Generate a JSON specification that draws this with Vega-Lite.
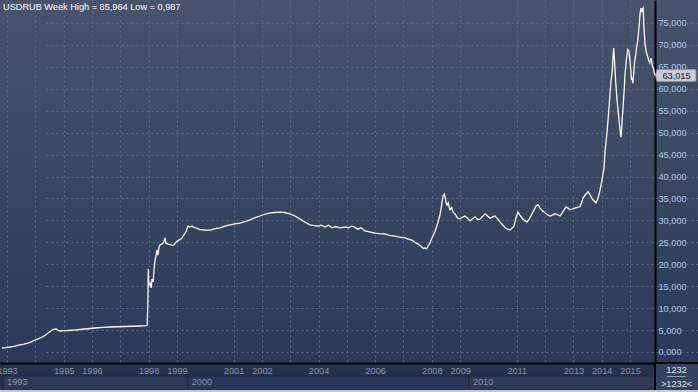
{
  "$schema": "https://vega.github.io/schema/vega-lite/v6.json",
  "width": 698,
  "height": 363,
  "autosize": {"type": "none"},
  "padding": {"left": 0, "top": 0, "right": 0, "bottom": 29},
  "background": "#25324d",
  "data": {"values": [{"k": 1}]},
  "title": {"text": "USDRUB Week High = 85,964 Low = 0,987", "anchor": "start", "frame": "group", "offset": -12, "dx": 3, "fontSize": 9.2, "fontWeight": "normal", "color": "#ffffff", "font": "Liberation Sans"},
  "config": {
    "font": "Liberation Sans",
    "view": {"stroke": null, "fill": {"gradient": "linear", "x1": 0, "y1": 0, "x2": 0, "y2": 1, "stops": [{"offset": 0, "color": "#47546b"}, {"offset": 1, "color": "#2a395b"}]}},
    "axis": {"labelOverlap": false, "labelFlush": false, "labelBound": false, "ticks": false, "tickSize": 0, "tickCount": 60},
    "locale": {"number": {"decimal": ",", "thousands": ".", "grouping": [3], "currency": ["", ""]}}
  },
  "layer": [
    {
      "data": {"values": [
        {"t":1992.82,"v":0.91},{"t":1992.95,"v":1.0},{"t":1993.11,"v":1.14},{"t":1993.28,"v":1.35},{"t":1993.46,"v":1.6},{"t":1993.6,"v":1.8},{"t":1993.74,"v":2.05},{"t":1993.85,"v":2.3},{"t":1993.99,"v":2.74},{"t":1994.1,"v":3.0},{"t":1994.24,"v":3.42},{"t":1994.35,"v":3.8},{"t":1994.45,"v":4.33},{"t":1994.53,"v":4.7},{"t":1994.59,"v":5.02},{"t":1994.66,"v":5.2},{"t":1994.73,"v":5.24},{"t":1994.8,"v":5.0},{"t":1994.87,"v":4.79},{"t":1995.0,"v":4.85},{"t":1995.15,"v":4.9},{"t":1995.35,"v":5.0},{"t":1995.58,"v":5.13},{"t":1995.85,"v":5.3},{"t":1996.11,"v":5.47},{"t":1996.4,"v":5.6},{"t":1996.64,"v":5.7},{"t":1996.9,"v":5.76},{"t":1997.17,"v":5.81},{"t":1997.45,"v":5.87},{"t":1997.7,"v":5.93},{"t":1997.9,"v":6.0},{"t":1997.95,"v":6.05},{"t":1997.97,"v":10.5},{"t":1997.98,"v":14.1},{"t":1997.99,"v":18.9},{"t":1998.0,"v":16.0},{"t":1998.01,"v":15.3},{"t":1998.05,"v":15.7},{"t":1998.09,"v":14.6},{"t":1998.12,"v":16.6},{"t":1998.16,"v":16.0},{"t":1998.19,"v":18.7},{"t":1998.23,"v":21.0},{"t":1998.26,"v":21.9},{"t":1998.3,"v":23.3},{"t":1998.33,"v":22.1},{"t":1998.37,"v":23.9},{"t":1998.4,"v":24.4},{"t":1998.47,"v":24.6},{"t":1998.53,"v":25.0},{"t":1998.58,"v":26.0},{"t":1998.61,"v":24.8},{"t":1998.68,"v":24.6},{"t":1998.76,"v":24.5},{"t":1998.83,"v":24.3},{"t":1998.9,"v":24.4},{"t":1998.97,"v":25.1},{"t":1999.07,"v":25.5},{"t":1999.15,"v":25.8},{"t":1999.22,"v":26.4},{"t":1999.32,"v":27.4},{"t":1999.39,"v":28.7},{"t":1999.46,"v":28.5},{"t":1999.53,"v":28.7},{"t":1999.6,"v":28.4},{"t":1999.67,"v":28.3},{"t":1999.81,"v":27.9},{"t":2000.0,"v":27.8},{"t":2000.17,"v":27.8},{"t":2000.35,"v":28.1},{"t":2000.52,"v":28.3},{"t":2000.7,"v":28.7},{"t":2000.87,"v":29.0},{"t":2001.05,"v":29.2},{"t":2001.23,"v":29.4},{"t":2001.4,"v":29.7},{"t":2001.58,"v":30.1},{"t":2001.75,"v":30.6},{"t":2001.93,"v":31.0},{"t":2002.1,"v":31.4},{"t":2002.29,"v":31.7},{"t":2002.45,"v":31.8},{"t":2002.64,"v":31.9},{"t":2002.8,"v":31.8},{"t":2002.99,"v":31.5},{"t":2003.17,"v":31.0},{"t":2003.35,"v":30.3},{"t":2003.52,"v":29.6},{"t":2003.7,"v":29.0},{"t":2003.85,"v":28.8},{"t":2003.98,"v":28.7},{"t":2004.1,"v":28.9},{"t":2004.23,"v":28.5},{"t":2004.35,"v":28.9},{"t":2004.48,"v":28.3},{"t":2004.6,"v":28.6},{"t":2004.76,"v":28.3},{"t":2004.94,"v":28.5},{"t":2005.05,"v":28.3},{"t":2005.18,"v":28.7},{"t":2005.28,"v":28.4},{"t":2005.39,"v":28.0},{"t":2005.5,"v":28.3},{"t":2005.64,"v":27.6},{"t":2005.8,"v":27.4},{"t":2006.0,"v":27.1},{"t":2006.15,"v":27.0},{"t":2006.35,"v":26.9},{"t":2006.5,"v":26.6},{"t":2006.7,"v":26.4},{"t":2006.85,"v":26.2},{"t":2007.05,"v":26.0},{"t":2007.2,"v":25.7},{"t":2007.3,"v":25.5},{"t":2007.4,"v":25.0},{"t":2007.51,"v":24.6},{"t":2007.6,"v":24.2},{"t":2007.7,"v":23.6},{"t":2007.76,"v":23.7},{"t":2007.82,"v":23.5},{"t":2007.87,"v":24.2},{"t":2007.93,"v":24.8},{"t":2007.97,"v":25.5},{"t":2008.04,"v":26.5},{"t":2008.11,"v":27.4},{"t":2008.17,"v":28.6},{"t":2008.22,"v":29.6},{"t":2008.28,"v":31.0},{"t":2008.33,"v":32.8},{"t":2008.37,"v":34.5},{"t":2008.4,"v":35.6},{"t":2008.44,"v":36.0},{"t":2008.47,"v":35.3},{"t":2008.5,"v":34.2},{"t":2008.54,"v":33.5},{"t":2008.58,"v":34.0},{"t":2008.64,"v":32.4},{"t":2008.7,"v":32.9},{"t":2008.76,"v":31.8},{"t":2008.82,"v":31.5},{"t":2008.9,"v":30.6},{"t":2008.99,"v":30.3},{"t":2009.08,"v":30.7},{"t":2009.17,"v":31.0},{"t":2009.26,"v":30.5},{"t":2009.35,"v":29.9},{"t":2009.44,"v":30.4},{"t":2009.53,"v":30.8},{"t":2009.62,"v":30.2},{"t":2009.7,"v":30.3},{"t":2009.79,"v":30.9},{"t":2009.88,"v":31.5},{"t":2009.97,"v":31.0},{"t":2010.06,"v":30.5},{"t":2010.15,"v":30.8},{"t":2010.23,"v":31.0},{"t":2010.32,"v":30.4},{"t":2010.41,"v":29.6},{"t":2010.5,"v":29.0},{"t":2010.59,"v":28.3},{"t":2010.68,"v":28.0},{"t":2010.76,"v":27.8},{"t":2010.83,"v":28.2},{"t":2010.9,"v":28.7},{"t":2010.97,"v":30.5},{"t":2011.04,"v":31.9},{"t":2011.11,"v":31.2},{"t":2011.19,"v":30.5},{"t":2011.28,"v":30.0},{"t":2011.36,"v":29.6},{"t":2011.45,"v":30.4},{"t":2011.54,"v":31.5},{"t":2011.61,"v":32.4},{"t":2011.68,"v":33.3},{"t":2011.75,"v":33.6},{"t":2011.82,"v":32.8},{"t":2011.91,"v":32.2},{"t":2012.0,"v":31.7},{"t":2012.09,"v":31.3},{"t":2012.17,"v":31.0},{"t":2012.26,"v":31.2},{"t":2012.35,"v":31.5},{"t":2012.44,"v":31.3},{"t":2012.53,"v":31.0},{"t":2012.63,"v":32.0},{"t":2012.74,"v":33.1},{"t":2012.81,"v":32.8},{"t":2012.88,"v":32.4},{"t":2012.97,"v":32.6},{"t":2013.06,"v":32.8},{"t":2013.15,"v":33.0},{"t":2013.23,"v":33.1},{"t":2013.29,"v":34.0},{"t":2013.34,"v":35.1},{"t":2013.43,"v":35.9},{"t":2013.52,"v":36.5},{"t":2013.59,"v":35.8},{"t":2013.64,"v":35.2},{"t":2013.69,"v":34.7},{"t":2013.75,"v":34.3},{"t":2013.8,"v":34.0},{"t":2013.87,"v":35.1},{"t":2013.94,"v":36.9},{"t":2014.01,"v":39.2},{"t":2014.08,"v":41.9},{"t":2014.12,"v":46.0},{"t":2014.16,"v":48.5},{"t":2014.19,"v":50.2},{"t":2014.23,"v":53.5},{"t":2014.26,"v":55.9},{"t":2014.3,"v":59.5},{"t":2014.33,"v":62.0},{"t":2014.36,"v":63.5},{"t":2014.38,"v":65.0},{"t":2014.4,"v":67.5},{"t":2014.42,"v":69.3},{"t":2014.45,"v":66.5},{"t":2014.47,"v":64.3},{"t":2014.5,"v":61.0},{"t":2014.54,"v":57.4},{"t":2014.58,"v":55.0},{"t":2014.61,"v":52.9},{"t":2014.65,"v":50.5},{"t":2014.68,"v":49.0},{"t":2014.7,"v":50.5},{"t":2014.72,"v":52.9},{"t":2014.75,"v":55.5},{"t":2014.77,"v":57.4},{"t":2014.8,"v":60.5},{"t":2014.82,"v":63.1},{"t":2014.86,"v":66.0},{"t":2014.89,"v":67.7},{"t":2014.92,"v":69.0},{"t":2014.95,"v":68.8},{"t":2014.98,"v":67.5},{"t":2015.0,"v":66.1},{"t":2015.03,"v":63.8},{"t":2015.05,"v":62.0},{"t":2015.08,"v":62.5},{"t":2015.1,"v":61.3},{"t":2015.13,"v":63.5},{"t":2015.16,"v":66.1},{"t":2015.2,"v":67.8},{"t":2015.23,"v":69.3},{"t":2015.27,"v":71.0},{"t":2015.3,"v":72.9},{"t":2015.33,"v":75.0},{"t":2015.35,"v":76.8},{"t":2015.37,"v":77.9},{"t":2015.39,"v":78.4},{"t":2015.42,"v":77.5},{"t":2015.44,"v":78.2},{"t":2015.46,"v":78.4},{"t":2015.48,"v":76.0},{"t":2015.49,"v":73.9},{"t":2015.51,"v":72.0},{"t":2015.53,"v":70.0},{"t":2015.57,"v":68.5},{"t":2015.6,"v":67.7},{"t":2015.63,"v":67.2},{"t":2015.65,"v":66.6},{"t":2015.68,"v":66.2},{"t":2015.7,"v":65.9},{"t":2015.72,"v":66.5},{"t":2015.74,"v":67.0},{"t":2015.77,"v":66.0},{"t":2015.79,"v":65.2},{"t":2015.82,"v":64.8},{"t":2015.84,"v":64.3},{"t":2015.86,"v":63.6},{"t":2015.88,"v":63.015}
      ]},
      "mark": {"type": "line", "color": "#fff8f0", "strokeWidth": 1.3},
      "encoding": {
        "x": {"field": "t", "type": "quantitative",
          "scale": {"domain": [1992.753, 2015.881], "range": [0, 655], "nice": false, "zero": false},
          "axis": {"title": null, "orient": "bottom", "values": [1993,1994,1995,1996,1997,1998,1999,2001,2002,2003,2004,2005,2006,2007,2008,2009,2011,2012,2013,2014,2015], "tickCount": 60,
            "format": "d", "labelExpr": "indexof([1994,1997,2003,2005,2007,2012], datum.value) >= 0 ? '' : datum.label",
            "labelColor": "#868fa3", "labelFontSize": 9.2, "labelFont": "Liberation Sans", "labelPadding": 3, "labelFlush": false, "labelOverlap": false, "labelBound": false,
            "ticks": false, "tickSize": 0, "domainColor": "#000000", "domainWidth": 2,
            "grid": true, "gridColor": "#5b6a86", "gridDash": [2, 3], "gridWidth": 1}},
        "y": {"field": "v", "type": "quantitative",
          "scale": {"domain": [-2.508, 80.242], "nice": false, "zero": false},
          "axis": {"title": null, "orient": "right", "offset": -43, "values": [0,5,10,15,20,25,30,35,40,45,50,55,60,65,70,75], "tickCount": 60,
            "format": ".3f", "labelColor": "#a9c3ea", "labelFontSize": 9.2, "labelFont": "Liberation Sans", "labelAlign": "left", "labelBaseline": "middle", "labelPadding": 3, "labelOverlap": false,
            "ticks": false, "tickSize": 0, "domainColor": "#000000", "domainWidth": 2,
            "grid": true, "gridColor": "#5b6a86", "gridDash": [2, 3], "gridWidth": 1}}
      }
    },
    {
      "data": {"values": [
        {"start": 1992.86, "end": 1999.38, "label": "1993"},
        {"start": 1999.38, "end": 2009.31, "label": "2000"},
        {"start": 2009.31, "end": 2015.881, "label": "2010"}
      ]},
      "layer": [
        {
          "mark": {"type": "rect", "stroke": "#1f2b44", "strokeWidth": 1},
          "encoding": {
            "x": {"field": "start", "type": "quantitative", "axis": {"title": null}},
            "x2": {"field": "end"},
            "y": {"datum": -5.471, "type": "quantitative", "axis": {"title": null}},
            "y2": {"datum": -8.662},
            "color": {"field": "label", "type": "nominal", "legend": null, "scale": {"domain": ["1993", "2000", "2010"], "range": ["#2c3a58", "#29375a", "#2c3a58"]}}
          }
        },
        {
          "mark": {"type": "text", "align": "left", "baseline": "middle", "dx": 4, "fontSize": 9.2, "color": "#868fa3"},
          "encoding": {
            "x": {"field": "start", "type": "quantitative", "axis": {"title": null}},
            "y": {"datum": -6.839, "type": "quantitative", "axis": {"title": null}},
            "text": {"field": "label"}
          }
        }
      ]
    },
    {
      "mark": {"type": "rect", "color": "#34425f"},
      "encoding": {
        "x": {"datum": 2015.881, "type": "quantitative", "axis": {"title": null}},
        "x2": {"datum": 2017.4},
        "y": {"datum": -2.508, "type": "quantitative", "axis": {"title": null}},
        "y2": {"datum": -9.118}
      }
    },
    {
      "mark": {"type": "rule", "color": "#000000", "strokeWidth": 2},
      "encoding": {
        "x": {"datum": 2015.881, "type": "quantitative", "axis": {"title": null}},
        "y": {"datum": -2.508, "type": "quantitative", "axis": {"title": null}},
        "y2": {"datum": -9.118}
      }
    },
    {
      "mark": {"type": "rule", "color": "#000000", "strokeWidth": 2},
      "encoding": {
        "x": {"datum": 2015.881, "type": "quantitative", "axis": {"title": null}},
        "x2": {"datum": 2017.4},
        "y": {"datum": -2.508, "type": "quantitative", "axis": {"title": null}}
      }
    },
    {
      "mark": {"type": "rule", "color": "#9aa3b5", "strokeWidth": 1},
      "encoding": {
        "x": {"datum": 2016.305, "type": "quantitative", "axis": {"title": null}},
        "x2": {"datum": 2016.976},
        "y": {"datum": -5.585, "type": "quantitative", "axis": {"title": null}}
      }
    },
    {
      "mark": {"type": "text", "align": "center", "baseline": "middle", "fontSize": 9.2, "color": "#e3e7ee", "text": "1232"},
      "encoding": {
        "x": {"datum": 2016.641, "type": "quantitative", "axis": {"title": null}},
        "y": {"datum": -4.103, "type": "quantitative", "axis": {"title": null}}
      }
    },
    {
      "mark": {"type": "text", "align": "center", "baseline": "middle", "fontSize": 9.2, "color": "#e3e7ee", "text": ">1232<"},
      "encoding": {
        "x": {"datum": 2016.641, "type": "quantitative", "axis": {"title": null}},
        "y": {"datum": -7.295, "type": "quantitative", "axis": {"title": null}}
      }
    },
    {
      "mark": {"type": "rule", "color": "#c3c8d1", "strokeWidth": 2},
      "encoding": {
        "x": {"datum": 1992.753, "type": "quantitative", "axis": {"title": null}},
        "x2": {"datum": 2017.4},
        "y": {"datum": -8.89, "type": "quantitative", "axis": {"title": null}}
      }
    },
    {
      "data": {"values": [{"v": 63.015, "label": "63,015"}]},
      "layer": [
        {
          "mark": {"type": "point", "filled": true, "shape": "M-1.05,0L-0.975,-0.3L0.975,-0.3L0.975,0.3L-0.975,0.3Z", "size": 1600, "fill": "#c9cdd3", "stroke": "#8d939c", "strokeWidth": 1, "opacity": 1},
          "encoding": {
            "x": {"datum": 2016.641, "type": "quantitative", "axis": {"title": null}},
            "y": {"field": "v", "type": "quantitative", "axis": {"title": null}}
          }
        },
        {
          "mark": {"type": "text", "align": "center", "baseline": "middle", "fontSize": 9.2, "color": "#1a1a1a"},
          "encoding": {
            "x": {"datum": 2016.641, "type": "quantitative", "axis": {"title": null}},
            "y": {"field": "v", "type": "quantitative", "axis": {"title": null}},
            "text": {"field": "label"}
          }
        }
      ]
    }
  ]
}
